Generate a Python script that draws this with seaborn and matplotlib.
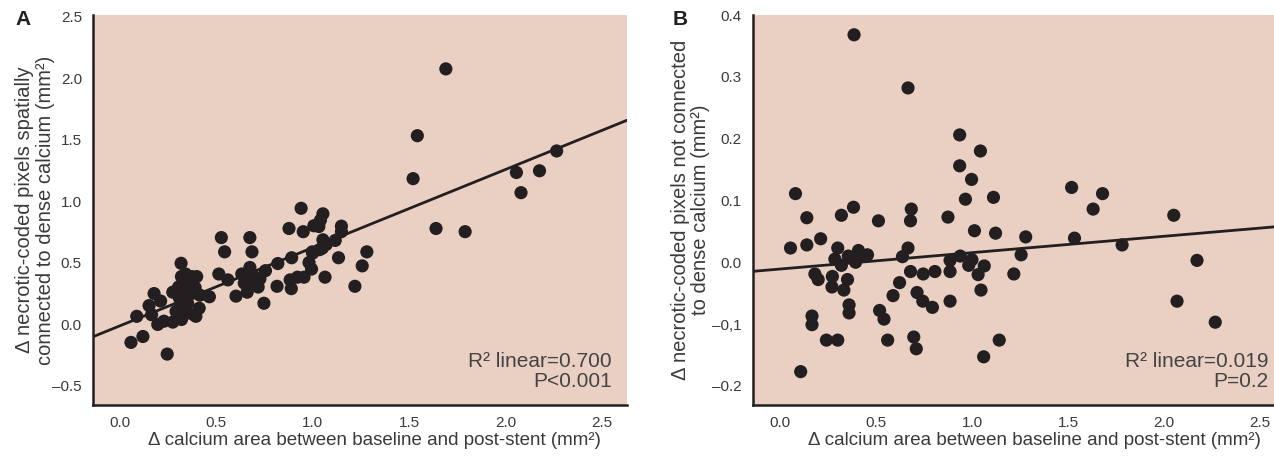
import numpy as np
import pandas as pd
import matplotlib
matplotlib.use("Agg")
import matplotlib.pyplot as plt
import seaborn as sns

# --- DATA ---
# Panel A: connected necrotic pixels vs calcium area change
calcium_a = [0.057, 0.119, 0.245, 0.087, 0.151, 0.177, 0.164, 0.211, 0.196, 0.228,
             0.274, 0.274, 0.317, 0.319, 0.340, 0.372, 0.398, 0.304, 0.330, 0.355,
             0.309, 0.340, 0.372, 0.415, 0.464, 0.291, 0.319, 0.351, 0.319, 0.383,
             0.411, 0.394, 0.351, 0.302, 0.513, 0.526, 0.543, 0.560, 0.602, 0.632,
             0.660, 0.645, 0.674, 0.685, 0.674, 0.674, 0.702, 0.717, 0.726, 0.755,
             0.747, 0.815, 0.819, 0.877, 0.891, 0.883, 0.889, 0.940, 0.951, 0.921,
             0.955, 0.981, 0.994, 0.998, 1.006, 1.032, 1.040, 1.053, 1.053, 1.036,
             1.064, 1.117, 1.134, 1.149, 1.149, 1.219, 1.257, 1.281, 1.521, 1.543,
             1.640, 1.691, 1.791, 2.057, 2.081, 2.177, 2.266,
             0.360, 0.390, 0.330, 0.690, 0.660, 0.710, 1.000, 1.050, 1.070]
necrotic_a = [-0.146, -0.098, -0.241, 0.066, 0.153, 0.251, 0.079, 0.190, 0.000, 0.026,
              0.019, 0.262, 0.497, 0.389, 0.410, 0.389, 0.389, 0.304, 0.278, 0.304,
              0.212, 0.225, 0.251, 0.238, 0.225, 0.106, 0.146, 0.172, 0.040, 0.079,
              0.132, 0.066, 0.093, 0.066, 0.410, 0.706, 0.590, 0.362, 0.230, 0.410,
              0.262, 0.336, 0.706, 0.590, 0.463, 0.397, 0.331, 0.304, 0.370, 0.437,
              0.172, 0.310, 0.495, 0.780, 0.542, 0.362, 0.291, 0.944, 0.754, 0.384,
              0.384, 0.503, 0.450, 0.590, 0.802, 0.796, 0.847, 0.899, 0.688, 0.608,
              0.384, 0.683, 0.542, 0.799, 0.754, 0.310, 0.476, 0.590, 1.185, 1.534,
              0.780, 2.077, 0.754, 1.235, 1.071, 1.249, 1.410,
              0.330, 0.300, 0.360, 0.400, 0.380, 0.360, 0.580, 0.620, 0.650]

# Panel B: non-connected necrotic pixels vs calcium area change
calcium_b = [0.055, 0.081, 0.140, 0.140, 0.212, 0.108, 0.182, 0.199, 0.167, 0.167,
             0.242, 0.301, 0.273, 0.271, 0.301, 0.286, 0.320, 0.320, 0.333, 0.352,
             0.360, 0.360, 0.356, 0.383, 0.386, 0.394, 0.409, 0.424, 0.456, 0.513,
             0.519, 0.542, 0.561, 0.589, 0.623, 0.638, 0.667, 0.680, 0.684, 0.667,
             0.680, 0.697, 0.710, 0.714, 0.744, 0.746, 0.794, 0.807, 0.875, 0.886,
             0.886, 0.886, 0.939, 0.936, 0.936, 0.966, 0.983, 0.998, 1.000, 1.013,
             1.032, 1.044, 1.047, 1.061, 1.064, 1.112, 1.123, 1.142, 1.218, 1.256,
             1.280, 1.519, 1.534, 1.631, 1.680, 1.782, 2.051, 2.068, 2.172, 2.267]
necrotic_b = [0.023, 0.111, 0.072, 0.028, 0.038, -0.177, -0.019, -0.028, -0.087, -0.101,
              -0.126, -0.126, -0.023, -0.040, 0.023, 0.005, -0.005, 0.076, -0.045, -0.028,
              -0.069, -0.082, 0.010, 0.089, 0.368, 0.000, 0.019, 0.010, 0.012, 0.067,
              -0.078, -0.092, -0.126, -0.054, -0.033, 0.009, 0.023, 0.067, 0.086, 0.282,
              -0.015, -0.121, -0.140, -0.049, -0.063, -0.019, -0.073, -0.015, 0.073, 0.003,
              -0.015, -0.063, 0.010, 0.206, 0.156, 0.102, -0.005, 0.134, 0.004, 0.051,
              -0.020, 0.180, -0.045, -0.153, -0.006, 0.105, 0.047, -0.126, -0.019, 0.012,
              0.041, 0.121, 0.039, 0.086, 0.111, 0.028, 0.076, -0.063, 0.003, -0.097]

# linear fits as printed in the figure (intercept, slope)
fit_a = (-0.011, 0.635)
fit_b = (-0.011, 0.0265)

x_ticks = [0.0, 0.5, 1.0, 1.5, 2.0, 2.5]
x_tick_labels = ['0.0', '0.5', '1.0', '1.5', '2.0', '2.5']
y_ticks_a = [-0.5, 0.0, 0.5, 1.0, 1.5, 2.0, 2.5]
y_tick_labels_a = ['\u20130.5', '0.0', '0.5', '1.0', '1.5', '2.0', '2.5']
y_ticks_b = [-0.2, -0.1, 0.0, 0.1, 0.2, 0.3, 0.4]
y_tick_labels_b = ['\u20130.2', '\u20130,1', '0.0', '0.1', '0.2', '0.3', '0.4']

df_a = pd.DataFrame({'calcium': calcium_a, 'necrotic': necrotic_a})
df_b = pd.DataFrame({'calcium': calcium_b, 'necrotic': necrotic_b})

# --- STYLE ---
sns.set_style("white")
plt.rcParams['font.family'] = ['Liberation Sans', 'DejaVu Sans']
plt.rcParams['axes.unicode_minus'] = False

bg = '#eacfc3'
ink = '#231f20'
txt = '#3a3a3a'

fig = plt.figure(figsize=(12.74, 4.59), dpi=100)
ax_a = fig.add_axes([0.0730, 0.1176, 0.419, 0.8497])
ax_b = fig.add_axes([0.5911, 0.1176, 0.4089, 0.8497])

panels = [
    (ax_a, df_a, fit_a, (-0.14, 2.63), (-0.655, 2.515), y_ticks_a, y_tick_labels_a,
     '\u0394 necrotic-coded pixels spatially\nconnected to dense calcium (mm\u00b2)',
     'R\u00b2 linear=0.700\nP<0.001', 'A', -0.072, 0.527, 0.972, 15),
    (ax_b, df_b, fit_b, (-0.14, 2.573), (-0.231, 0.40), y_ticks_b, y_tick_labels_b,
     '\u0394 necrotic-coded pixels not connected\nto dense calcium (mm\u00b2)',
     'R\u00b2 linear=0.019\nP=0.2', 'B', -0.082, 0.54, 0.99, 673),
]

for (ax, df, fit, xlim, ylim, yt, ytl, ylab, stat, letter,
     ylab_x, xlab_x, stat_x, letter_px) in panels:
    ax.set_facecolor(bg)
    sns.scatterplot(data=df, x='calcium', y='necrotic', ax=ax, color=ink,
                    s=90, edgecolor='none', zorder=3)
    ax.axline((0, fit[0]), slope=fit[1], color=ink, linewidth=2, zorder=2)
    ax.set_xlim(*xlim)
    ax.set_ylim(*ylim)
    ax.set_xticks(x_ticks)
    ax.set_xticklabels(x_tick_labels)
    ax.set_yticks(yt)
    ax.set_yticklabels(ytl)
    ax.tick_params(axis='both', direction='out', length=6, width=1.2,
                   color=ink, labelsize=11, labelcolor=txt, pad=2)
    for side in ['top', 'right']:
        ax.spines[side].set_visible(False)
    for side in ['left', 'bottom']:
        ax.spines[side].set_color(ink)
        ax.spines[side].set_linewidth(1.8)
    ax.set_xlabel('\u0394 calcium area between baseline and post-stent (mm\u00b2)',
                  fontsize=13.5, color=txt)
    ax.xaxis.set_label_coords(xlab_x, -0.068)
    ax.set_ylabel(ylab, fontsize=14.5, color=txt, linespacing=1.1)
    ax.yaxis.set_label_coords(ylab_x, 0.5)
    ax.text(stat_x, 0.035, stat, transform=ax.transAxes, ha='right', va='bottom',
            fontsize=15, color='#444444', linespacing=1.1)
    fig.text(letter_px / 1274, 1 - 10 / 459, letter, ha='left', va='top',
             fontsize=15, fontweight='bold', color=ink)

fig.savefig('out.png', dpi=100, facecolor='white')
